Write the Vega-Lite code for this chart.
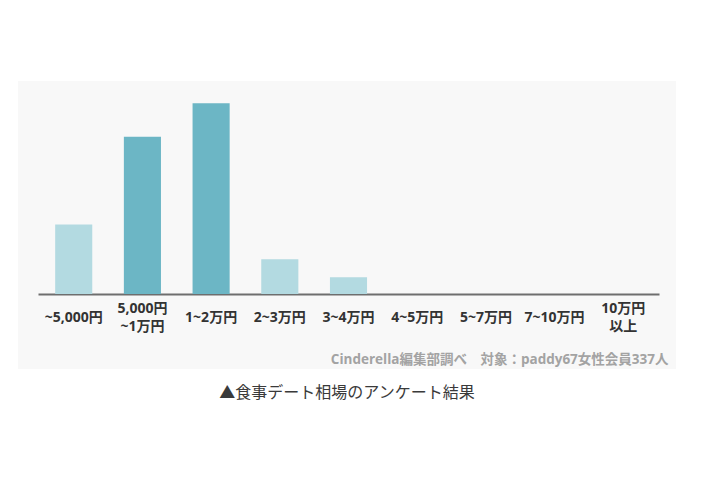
{
  "$schema": "https://vega.github.io/schema/vega-lite/v6.json",
  "width": 658,
  "height": 288,
  "padding": {"left": 18, "top": 81, "right": 0, "bottom": 12},
  "autosize": {"type": "pad"},
  "background": "white",
  "title": {
    "text": "▲食事デート相場のアンケート結果",
    "orient": "bottom",
    "anchor": "middle",
    "font": "Noto Sans CJK JP",
    "fontSize": 16,
    "fontWeight": "normal",
    "color": "#3a3a3a",
    "offset": 16
  },
  "data": {
    "values": [
      {"range": "~5,000円", "count": 50, "tone": "light"},
      {"range": "5,000円 ~1万円", "count": 113, "tone": "dark"},
      {"range": "1~2万円", "count": 137, "tone": "dark"},
      {"range": "2~3万円", "count": 25, "tone": "light"},
      {"range": "3~4万円", "count": 12, "tone": "light"},
      {"range": "4~5万円", "count": 0, "tone": "light"},
      {"range": "5~7万円", "count": 0, "tone": "light"},
      {"range": "7~10万円", "count": 0, "tone": "light"},
      {"range": "10万円 以上", "count": 0, "tone": "light"}
    ]
  },
  "mark": {"type": "bar"},
  "encoding": {
    "x": {
      "field": "range",
      "type": "nominal",
      "sort": null,
      "scale": {"range": [20, 641], "paddingInner": 0.46, "paddingOuter": 0.25},
      "axis": {
        "title": "Cinderella編集部調べ　対象：paddy67女性会員337人",
        "titleFont": "Open Sans, Noto Sans CJK JP",
        "titleFontSize": 13.5,
        "titleFontWeight": "bold",
        "titleColor": "#a3a3a3",
        "titleAnchor": "end",
        "titleAlign": "right",
        "titleX": 650,
        "titleY": 58,
        "labelExpr": "split(datum.label, ' ')",
        "labelAngle": 0,
        "labelFont": "Open Sans, Noto Sans CJK JP",
        "labelFontSize": 14,
        "labelFontWeight": "bold",
        "labelColor": "#333333",
        "labelBaseline": "middle",
        "labelPadding": {"condition": {"test": "indexof(datum.value, ' ') >= 0", "value": 14}, "value": 23},
        "labelLineHeight": 18,
        "labelOverlap": false,
        "ticks": false,
        "domainColor": "#6e6e6e",
        "domainWidth": 2,
        "offset": -75
      }
    },
    "y": {
      "field": "count",
      "type": "quantitative",
      "scale": {"domain": [0, 153], "range": [213, 0], "nice": false},
      "axis": null
    },
    "color": {
      "field": "tone",
      "type": "nominal",
      "scale": {"domain": ["light", "dark"], "range": ["#b3dae1", "#6cb6c5"]},
      "legend": null
    }
  },
  "config": {
    "view": {"fill": "#f8f8f8", "stroke": null}
  }
}
